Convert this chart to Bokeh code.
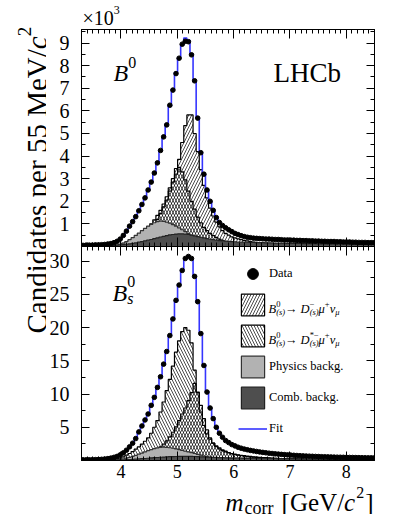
import numpy as np
from bokeh.plotting import figure
from bokeh.models import (Range1d, LinearAxis, FixedTicker, Label, Legend,
                          LegendItem, ColumnDataSource, CustomJSTickFormatter)
from bokeh.layouts import row, column
from bokeh.embed import file_html
from bokeh.resources import INLINE

FONT = "Liberation Serif"

# ---------------- data (55 MeV bins starting at 3.30 GeV) ----------------
BIN_LO, BIN_W, NBINS = 3.30, 0.055, 95

X_MAJOR = [4, 5, 6, 7, 8]
X_MINOR = [round(3.3 + 0.1 * k, 2) for k in range(53)]
TOP_Y_MAJOR = [1, 2, 3, 4, 5, 6, 7, 8, 9]
TOP_Y_MINOR = [0.5, 1.5, 2.5, 3.5, 4.5, 5.5, 6.5, 7.5, 8.5, 9.5]
BOT_Y_MAJOR = [5, 10, 15, 20, 25, 30]
BOT_Y_MINOR = [2.5, 7.5, 12.5, 17.5, 22.5, 27.5, 32.5]

# B0 panel (x10^3 candidates)
top_data = [0.05, 0.06, 0.06, 0.06, 0.07, 0.07, 0.08, 0.09, 0.11, 0.13,
            0.17, 0.23, 0.33, 0.49, 0.68, 0.90, 1.10, 1.32, 1.58, 1.86,
            2.15, 2.50, 2.85, 3.25, 3.70, 4.25, 4.85, 5.38, 6.25, 6.92,
            7.65, 8.33, 8.95, 9.08, 9.06, 8.48, 7.33, 5.68, 4.15, 3.20,
            2.50, 2.00, 1.60, 1.28, 1.06, 0.93, 0.83, 0.74, 0.66, 0.58,
            0.53, 0.48, 0.44, 0.41, 0.39, 0.37, 0.36, 0.35, 0.34, 0.33,
            0.33, 0.32, 0.31, 0.31, 0.30, 0.29, 0.29, 0.28, 0.28, 0.27,
            0.27, 0.26, 0.26, 0.25, 0.25, 0.24, 0.24, 0.23, 0.23, 0.22,
            0.22, 0.22, 0.21, 0.21, 0.20, 0.20, 0.20, 0.19, 0.19, 0.18,
            0.18, 0.18, 0.17, 0.17, 0.17]
top_fit = [0.05, 0.05, 0.06, 0.06, 0.07, 0.07, 0.08, 0.09, 0.11, 0.14,
           0.18, 0.24, 0.34, 0.48, 0.67, 0.89, 1.11, 1.34, 1.60, 1.88,
           2.17, 2.50, 2.88, 3.28, 3.72, 4.25, 4.83, 5.42, 6.20, 6.95,
           7.70, 8.35, 8.92, 9.22, 9.12, 8.50, 7.30, 5.70, 4.18, 3.18,
           2.50, 2.00, 1.62, 1.30, 1.07, 0.93, 0.83, 0.74, 0.66, 0.59,
           0.53, 0.48, 0.44, 0.41, 0.39, 0.37, 0.36, 0.35, 0.34, 0.33,
           0.33, 0.32, 0.31, 0.31, 0.30, 0.29, 0.29, 0.28, 0.28, 0.27,
           0.27, 0.26, 0.26, 0.25, 0.25, 0.24, 0.24, 0.23, 0.23, 0.22,
           0.22, 0.22, 0.21, 0.21, 0.20, 0.20, 0.20, 0.19, 0.19, 0.18,
           0.18, 0.18, 0.17, 0.17, 0.17]
top_dmu = [0, 0, 0, 0, 0, 0, 0, 0.01, 0.01, 0.02,
           0.03, 0.06, 0.10, 0.14, 0.19, 0.25, 0.32, 0.40, 0.50, 0.60,
           0.72, 0.86, 1.00, 1.18, 1.38, 1.60, 1.88, 2.20, 2.60, 3.00,
           3.45, 3.85, 4.60, 5.35, 5.82, 5.82, 5.00, 4.20, 3.40, 2.70,
           2.15, 1.70, 1.35, 1.08, 0.87, 0.70, 0.58, 0.50, 0.43, 0.38,
           0.34, 0.30, 0.27, 0.25, 0.22, 0.20, 0.18, 0.17, 0.16, 0.15,
           0.14, 0.13, 0.12, 0.12, 0.11, 0.11, 0.10, 0.10, 0.09, 0.09,
           0.09, 0.08, 0.08, 0.08, 0.07, 0.07, 0.07, 0.07, 0.06, 0.06,
           0.06, 0.06, 0.05, 0.05, 0.05, 0.05, 0.05, 0.04, 0.04, 0.04,
           0.04, 0.04, 0.04, 0.03, 0.03]
top_dstmu = [0, 0, 0, 0, 0, 0, 0, 0, 0.01, 0.01,
             0.02, 0.03, 0.05, 0.08, 0.12, 0.16, 0.22, 0.28, 0.36, 0.45,
             0.55, 0.68, 0.82, 1.00, 1.20, 1.45, 1.75, 2.05, 2.45, 2.85,
             3.20, 3.50, 3.30, 2.95, 2.45, 2.00, 1.65, 1.30, 1.05, 0.85,
             0.70, 0.58, 0.48, 0.40, 0.33, 0.27, 0.22, 0.18, 0.15, 0.12,
             0.10, 0.08, 0.07, 0.06, 0.05, 0.05, 0.04, 0.04, 0.03, 0.03,
             0.03, 0.03, 0.02, 0.02, 0.02, 0.02, 0.02, 0.02, 0.02, 0.02,
             0.02, 0.02, 0.02, 0.02, 0.02, 0.01, 0.01, 0.01, 0.01, 0.01,
             0.01, 0.01, 0.01, 0.01, 0.01, 0.01, 0.01, 0.01, 0.01, 0.01,
             0.01, 0.01, 0.01, 0.01, 0.01]
top_phys = [0, 0, 0, 0, 0, 0, 0, 0.01, 0.01, 0.02,
            0.04, 0.06, 0.10, 0.15, 0.22, 0.30, 0.39, 0.49, 0.59, 0.70,
            0.80, 0.90, 0.98, 1.05, 1.10, 1.12, 1.11, 1.08, 1.03, 0.97,
            0.90, 0.82, 0.74, 0.66, 0.57, 0.49, 0.41, 0.34, 0.27, 0.21,
            0.16, 0.12, 0.09, 0.07, 0.05, 0.04, 0.03, 0.02, 0.02, 0.01,
            0.01, 0.01, 0.01, 0.01, 0.01, 0, 0, 0, 0, 0,
            0, 0, 0, 0, 0, 0, 0, 0, 0, 0,
            0, 0, 0, 0, 0, 0, 0, 0, 0, 0,
            0, 0, 0, 0, 0, 0, 0, 0, 0, 0,
            0, 0, 0, 0, 0]
top_comb = [0.02, 0.02, 0.02, 0.02, 0.03, 0.03, 0.03, 0.04, 0.04, 0.05,
            0.05, 0.06, 0.07, 0.08, 0.10, 0.12, 0.14, 0.16, 0.19, 0.22,
            0.25, 0.28, 0.31, 0.35, 0.38, 0.42, 0.45, 0.48, 0.51, 0.53,
            0.55, 0.56, 0.56, 0.55, 0.53, 0.50, 0.47, 0.44, 0.41, 0.38,
            0.35, 0.32, 0.30, 0.28, 0.26, 0.25, 0.24, 0.23, 0.22, 0.21,
            0.20, 0.20, 0.19, 0.19, 0.18, 0.18, 0.17, 0.17, 0.17, 0.16,
            0.16, 0.16, 0.15, 0.15, 0.15, 0.15, 0.14, 0.14, 0.14, 0.14,
            0.14, 0.13, 0.13, 0.13, 0.13, 0.13, 0.12, 0.12, 0.12, 0.12,
            0.12, 0.12, 0.11, 0.11, 0.11, 0.11, 0.11, 0.11, 0.10, 0.10,
            0.10, 0.10, 0.10, 0.10, 0.10]

# Bs0 panel (x10^3 candidates)
bot_data = [0.10, 0.10, 0.11, 0.12, 0.13, 0.15, 0.18, 0.22, 0.28, 0.36,
            0.48, 0.62, 0.85, 1.15, 1.55, 2.05, 2.60, 3.30, 4.30, 5.20,
            6.10, 7.00, 8.30, 9.50, 11.0, 12.6, 14.5, 16.4, 18.8, 21.3,
            24.1, 26.4, 28.6, 30.4, 30.7, 30.4, 27.7, 23.9, 19.1, 14.3,
            10.3, 7.9, 6.3, 5.0, 4.1, 3.5, 3.0, 2.7, 2.4, 2.2,
            2.0, 1.85, 1.72, 1.62, 1.52, 1.44, 1.36, 1.29, 1.22, 1.16,
            1.10, 1.05, 1.00, 0.96, 0.92, 0.88, 0.84, 0.81, 0.78, 0.75,
            0.72, 0.69, 0.67, 0.65, 0.63, 0.61, 0.59, 0.57, 0.56, 0.54,
            0.53, 0.51, 0.50, 0.49, 0.48, 0.47, 0.46, 0.45, 0.44, 0.43,
            0.42, 0.41, 0.40, 0.40, 0.39]
bot_fit = [0.10, 0.10, 0.11, 0.12, 0.13, 0.15, 0.18, 0.22, 0.28, 0.37,
           0.49, 0.64, 0.86, 1.16, 1.56, 2.05, 2.62, 3.32, 4.25, 5.20,
           6.10, 7.05, 8.25, 9.50, 11.0, 12.6, 14.5, 16.5, 18.8, 21.3,
           24.0, 26.5, 28.7, 30.3, 30.8, 30.3, 27.8, 23.8, 19.2, 14.4,
           10.4, 7.9, 6.3, 5.0, 4.1, 3.5, 3.0, 2.7, 2.4, 2.2,
           2.0, 1.85, 1.72, 1.62, 1.52, 1.44, 1.36, 1.29, 1.22, 1.16,
           1.10, 1.05, 1.00, 0.96, 0.92, 0.88, 0.84, 0.81, 0.78, 0.75,
           0.72, 0.69, 0.67, 0.65, 0.63, 0.61, 0.59, 0.57, 0.56, 0.54,
           0.53, 0.51, 0.50, 0.49, 0.48, 0.47, 0.46, 0.45, 0.44, 0.43,
           0.42, 0.41, 0.40, 0.40, 0.39]
bot_dmu = [0, 0, 0, 0, 0, 0, 0, 0, 0.01, 0.02,
           0.03, 0.05, 0.08, 0.12, 0.18, 0.25, 0.35, 0.45, 0.58, 0.72,
           0.88, 1.05, 1.25, 1.48, 1.75, 2.05, 2.45, 2.95, 3.55, 4.25,
           5.05, 6.00, 7.00, 7.90, 9.00, 10.2, 11.6, 10.3, 8.3, 6.3,
           4.6, 3.4, 2.6, 2.1, 1.75, 1.5, 1.3, 1.15, 1.0, 0.9,
           0.8, 0.72, 0.66, 0.6, 0.55, 0.51, 0.47, 0.44, 0.41, 0.38,
           0.36, 0.34, 0.32, 0.30, 0.28, 0.27, 0.25, 0.24, 0.23, 0.22,
           0.21, 0.20, 0.19, 0.18, 0.17, 0.16, 0.16, 0.15, 0.14, 0.14,
           0.13, 0.13, 0.12, 0.12, 0.11, 0.11, 0.10, 0.10, 0.10, 0.09,
           0.09, 0.09, 0.08, 0.08, 0.08]
bot_dstmu = [0, 0, 0, 0, 0, 0, 0.01, 0.02, 0.03, 0.05,
             0.12, 0.20, 0.35, 0.55, 0.80, 1.05, 1.35, 1.70, 2.05, 2.45,
             2.90, 3.40, 4.10, 5.00, 6.00, 7.30, 8.80, 10.5, 12.2, 14.2,
             16.3, 18.0, 19.4, 20.0, 19.6, 17.7, 13.6, 10.2, 7.3, 5.3,
             4.0, 3.2, 2.6, 2.2, 1.9, 1.6, 1.4, 1.2, 1.05, 0.95,
             0.85, 0.78, 0.72, 0.66, 0.61, 0.56, 0.52, 0.48, 0.45, 0.42,
             0.39, 0.36, 0.34, 0.32, 0.30, 0.28, 0.27, 0.25, 0.24, 0.23,
             0.22, 0.21, 0.20, 0.19, 0.18, 0.17, 0.16, 0.16, 0.15, 0.14,
             0.14, 0.13, 0.13, 0.12, 0.12, 0.11, 0.11, 0.10, 0.10, 0.10,
             0.09, 0.09, 0.09, 0.08, 0.08]
bot_phys = [0, 0, 0, 0, 0, 0, 0.01, 0.02, 0.03, 0.05,
            0.08, 0.12, 0.18, 0.26, 0.36, 0.48, 0.62, 0.78, 0.95, 1.12,
            1.30, 1.48, 1.64, 1.78, 1.90, 1.98, 2.00, 1.98, 1.92, 1.84,
            1.74, 1.63, 1.52, 1.41, 1.29, 1.17, 1.05, 0.92, 0.80, 0.68,
            0.57, 0.47, 0.38, 0.30, 0.24, 0.19, 0.15, 0.12, 0.09, 0.07,
            0.05, 0.04, 0.03, 0.02, 0.02, 0.01, 0.01, 0.01, 0, 0,
            0, 0, 0, 0, 0, 0, 0, 0, 0, 0,
            0, 0, 0, 0, 0, 0, 0, 0, 0, 0,
            0, 0, 0, 0, 0, 0, 0, 0, 0, 0,
            0, 0, 0, 0, 0]
bot_comb = [0.02, 0.02, 0.02, 0.03, 0.03, 0.03, 0.04, 0.04, 0.05, 0.05,
            0.06, 0.07, 0.08, 0.10, 0.12, 0.14, 0.17, 0.20, 0.23, 0.27,
            0.30, 0.34, 0.38, 0.42, 0.45, 0.49, 0.52, 0.55, 0.57, 0.59,
            0.60, 0.61, 0.62, 0.62, 0.62, 0.61, 0.60, 0.58, 0.56, 0.54,
            0.52, 0.50, 0.48, 0.46, 0.44, 0.42, 0.40, 0.39, 0.37, 0.36,
            0.35, 0.34, 0.33, 0.32, 0.31, 0.30, 0.29, 0.29, 0.28, 0.27,
            0.27, 0.26, 0.26, 0.25, 0.25, 0.24, 0.24, 0.23, 0.23, 0.22,
            0.22, 0.21, 0.21, 0.21, 0.20, 0.20, 0.19, 0.19, 0.19, 0.18,
            0.18, 0.18, 0.17, 0.17, 0.17, 0.16, 0.16, 0.16, 0.15, 0.15,
            0.15, 0.15, 0.14, 0.14, 0.14]

for arr in (top_data, top_fit, top_dmu, top_dstmu, top_phys, top_comb,
            bot_data, bot_fit, bot_dmu, bot_dstmu, bot_phys, bot_comb):
    assert len(arr) == NBINS

edges = BIN_LO + BIN_W * np.arange(NBINS + 1)
centers = edges[:-1] + BIN_W / 2
zeros = np.zeros(NBINS + 1)


def ext(v):
    return list(v) + [v[-1]]


# ---------------- text helpers ----------------
W_REG = {'(': .333, ')': .333, '+': .564, '[': .333, ']': .333, '/': .278,
         '.': .25, '×': .564, '−': .564, '*': .5, '→': 1.0, ' ': .25,
         'a': .444, 'b': .5, 'c': .444, 'd': .5, 'e': .444, 'g': .5, 'h': .5, 'i': .278,
         'k': .5, 'm': .778, 'n': .5, 'o': .5, 'p': .5, 'r': .333, 's': .389, 't': .278,
         'y': .5, 'B': .667, 'C': .667, 'D': .722, 'G': .722, 'H': .722, 'L': .611,
         'M': .889, 'P': .556, 'V': .722, 'μ': .576, 'ν': .5}
W_ITA = {'B': .611, 'D': .722, 'c': .444, 'm': .722, 's': .389, 'μ': .5, 'ν': .444,
         '(': .333, ')': .333}


def tw(s, size, italic=False):
    t = W_ITA if italic else W_REG
    return sum(t.get(ch, W_REG.get(ch, 0.5)) for ch in s) * size


def put(p, anchor, frame_xy, px, py, text, size, italic=False):
    """Place a text by page pixel position, relative to a frame corner."""
    ax, ay = anchor
    fx, fy = frame_xy
    p.add_layout(Label(x=ax, y=ay, x_offset=px - fx, y_offset=fy - py, text=text,
                       text_font=FONT, text_font_size=f"{size}px",
                       text_font_style="italic" if italic else "normal",
                       text_color="black", text_baseline="alphabetic", text_align="left"))


def rich(p, anchor, frame_xy, px, py, pieces):
    """pieces: (text, size, italic, rise, advance) or ("GAP", px)."""
    cx = px
    for pc in pieces:
        if pc[0] == "GAP":
            cx += pc[1]
            continue
        text, size, ital, rise, adv = pc
        put(p, anchor, frame_xy, cx, py - rise, text, size, ital)
        if adv:
            cx += tw(text, size, ital)
    return cx


def rich_width(pieces):
    w = 0
    for pc in pieces:
        if pc[0] == "GAP":
            w += pc[1]
        elif pc[4]:
            w += tw(pc[0], pc[1], pc[2])
    return w


# ---------------- geometry (page pixels) ----------------
LAB_W = 46            # left strip for the y title
STRIP_TOP_H = 29      # strip above the top panel (x10^3)
TOP_FH, BOT_FH = 217, 214
BOT_BB = 24           # x tick labels
STRIP_BOT_H = 30      # strip for the x title
TOTAL_H = STRIP_TOP_H + TOP_FH + BOT_FH + BOT_BB + STRIP_BOT_H
FRAME_W = 293
LEFT_B, RIGHT_B = 35, 10
FRAME_L = LAB_W + LEFT_B
TOP_FT = STRIP_TOP_H
BOT_FT = STRIP_TOP_H + TOP_FH

XR = Range1d(3.3, 8.5)
BLANK = CustomJSTickFormatter(code="return ''")


def style_axis(ax, labels, size, standoff, major_len=8, minor_len=4):
    ax.major_tick_in = major_len
    ax.major_tick_out = 0
    ax.minor_tick_in = minor_len
    ax.minor_tick_out = 0
    ax.axis_line_color = "black"
    ax.major_tick_line_color = "black"
    ax.minor_tick_line_color = "black"
    if labels:
        ax.major_label_text_font = FONT
        ax.major_label_text_font_size = size
        ax.major_label_text_color = "black"
        ax.major_label_standoff = standoff
    else:
        ax.formatter = BLANK
        ax.major_label_text_font_size = "0px"
        ax.major_label_standoff = 0


def panel(ymax, frame_h, bb, ymaj, ymin, xlabels):
    p = figure(x_range=XR, y_range=Range1d(0, ymax), frame_width=FRAME_W, frame_height=frame_h,
               min_border_left=LEFT_B, min_border_right=RIGHT_B, min_border_top=0,
               min_border_bottom=bb, x_axis_location=None, y_axis_location=None,
               output_backend="svg", toolbar_location=None)
    p.grid.visible = False
    p.outline_line_color = "black"
    p.outline_line_width = 1
    p.background_fill_color = "white"
    p.border_fill_color = "white"
    for loc in ("left", "right"):
        ax = LinearAxis(ticker=FixedTicker(ticks=ymaj, minor_ticks=ymin))
        style_axis(ax, loc == "left", "20px", 12, 8, 4)
        p.add_layout(ax, loc)
    for loc in ("below", "above"):
        ax = LinearAxis(ticker=FixedTicker(ticks=X_MAJOR, minor_ticks=X_MINOR))
        style_axis(ax, loc == "below" and xlabels, "18px", 4, 9, 4)
        p.add_layout(ax, loc)
    return p


def text_strip(h):
    """Text-only canvas whose frame lines up with the panels' frames."""
    s = figure(frame_width=FRAME_W, frame_height=h, x_range=Range1d(0, FRAME_W),
               y_range=Range1d(0, h), min_border_left=LEFT_B, min_border_right=RIGHT_B,
               min_border_top=0, min_border_bottom=0, x_axis_location=None,
               y_axis_location=None, output_backend="svg", toolbar_location=None)
    s.grid.visible = False
    s.outline_line_color = None
    s.background_fill_color = "white"
    s.border_fill_color = "white"
    return s


HATCH_SCALE = 6
HATCH_W = 0.7
LIGHT, LIGHT_LINE = "#b2b2b2", "#333333"
DARK, DARK_LINE = "#4e4e4e", "#222222"
FIT_BLUE = "#3535ff"


def draw(p, dmu, dstmu, phys, comb, fit, data):
    r = {}
    p.varea_step(x=edges, y1=zeros, y2=ext(dstmu), step_mode="after", fill_alpha=0,
                 hatch_pattern="\\", hatch_color="black", hatch_scale=HATCH_SCALE,
                 hatch_weight=HATCH_W)
    p.varea_step(x=edges, y1=zeros, y2=ext(dmu), step_mode="after", fill_alpha=0,
                 hatch_pattern="/", hatch_color="black", hatch_scale=HATCH_SCALE,
                 hatch_weight=HATCH_W)
    p.step(x=edges, y=ext(dstmu), mode="after", line_color="black", line_width=1.2)
    p.step(x=edges, y=ext(dmu), mode="after", line_color="black", line_width=1.2)
    p.varea_step(x=edges, y1=zeros, y2=ext(phys), step_mode="after", fill_color=LIGHT)
    p.step(x=edges, y=ext(phys), mode="after", line_color=LIGHT_LINE, line_width=1.2)
    p.varea_step(x=edges, y1=zeros, y2=ext(comb), step_mode="after", fill_color=DARK)
    p.step(x=edges, y=ext(comb), mode="after", line_color=DARK_LINE, line_width=1.2)
    r["fit"] = p.step(x=edges, y=ext(fit), mode="after", line_color=FIT_BLUE, line_width=1.6)
    r["data"] = p.scatter(x=centers, y=data, size=4.6, marker="circle",
                          fill_color="black", line_color="black")
    return r


TOP_YMAX, BOT_YMAX = 9.6, 32.2
top = panel(TOP_YMAX, TOP_FH, 0, TOP_Y_MAJOR, TOP_Y_MINOR, False)
bot = panel(BOT_YMAX, BOT_FH, BOT_BB, BOT_Y_MAJOR, BOT_Y_MINOR, True)

draw(top, top_dmu, top_dstmu, top_phys, top_comb, top_fit, top_data)
rb = draw(bot, bot_dmu, bot_dstmu, bot_phys, bot_comb, bot_fit, bot_data)

# legend swatches (renderers holding no visible data, used for the legend only)
nan_src = ColumnDataSource(dict(left=[np.nan], right=[np.nan], top=[np.nan], bottom=[np.nan]))
qargs = dict(left="left", right="right", top="top", bottom="bottom", source=nan_src)
lg_d = bot.quad(fill_alpha=0, hatch_pattern="/", hatch_color="black", hatch_scale=HATCH_SCALE,
                hatch_weight=HATCH_W, line_color="black", line_width=1.2, **qargs)
lg_ds = bot.quad(fill_alpha=0, hatch_pattern="\\", hatch_color="black", hatch_scale=HATCH_SCALE,
                 hatch_weight=HATCH_W, line_color="black", line_width=1.2, **qargs)
lg_ph = bot.quad(fill_color=LIGHT, line_color=LIGHT_LINE, line_width=1.2, **qargs)
lg_cb = bot.quad(fill_color=DARK, line_color=DARK_LINE, line_width=1.2, **qargs)

legend = Legend(items=[LegendItem(label="Data", renderers=[rb["data"]]),
                       LegendItem(label=" ", renderers=[lg_d]),
                       LegendItem(label=" ", renderers=[lg_ds]),
                       LegendItem(label="Physics backg.", renderers=[lg_ph]),
                       LegendItem(label="Comb. backg.", renderers=[lg_cb]),
                       LegendItem(label="Fit", renderers=[rb["fit"]])],
                location=(157, 18), glyph_width=29, glyph_height=27, spacing=4,
                padding=0, margin=0, label_standoff=2, label_text_font=FONT,
                label_text_font_size="12.5px", label_text_color="black",
                border_line_color=None, background_fill_alpha=0)
bot.add_layout(legend)

# ---------------- in-panel texts ----------------
TOP_ANCHOR, TOP_FRAME = (3.3, TOP_YMAX), (FRAME_L, TOP_FT)
BOT_ANCHOR, BOT_FRAME = (3.3, BOT_YMAX), (FRAME_L, BOT_FT)

put(top, TOP_ANCHOR, TOP_FRAME, 273, 72, "LHCb", 27)
rich(top, TOP_ANCHOR, TOP_FRAME, 113, 72, [("B", 24, True, 0, True), ("0", 16, False, 10, True)])
rich(bot, BOT_ANCHOR, BOT_FRAME, 112, 292, [("B", 24, True, 0, True), ("0", 16, False, 11, False),
                                            ("s", 16, True, -6, True)])

LG_SIZE, LG_SUB = 12.5, 8.5


def decay(py, sup):
    pieces = [("B", LG_SIZE, True, 0, True), ("0", LG_SUB, False, 5, False),
              ("(s)", LG_SUB, True, -3, True), ("→", LG_SIZE, False, 0, True),
              ("GAP", 3), ("D", LG_SIZE, True, 0, True),
              (sup, LG_SUB, False, 5, False), ("(s)", LG_SUB, True, -3, True),
              ("μ", LG_SIZE, True, 0, True), ("+", LG_SUB, False, 5, True),
              ("ν", LG_SIZE, True, 0, True), ("μ", LG_SUB, True, -3, True)]
    rich(bot, BOT_ANCHOR, BOT_FRAME, 268, py, pieces)


decay(308.5, "−")
decay(339.5, "*−")

# ---------------- strip above: x10^3 ----------------
top_strip = text_strip(STRIP_TOP_H)
S_ANCHOR, S_FRAME = (0, STRIP_TOP_H), (FRAME_L, 0)
rich(top_strip, S_ANCHOR, S_FRAME, 82, 17, [("×10", 20, False, 0, True), ("3", 12, False, 8, True)])

# ---------------- strip below: x title ----------------
bot_strip = text_strip(STRIP_BOT_H)
B_Y0 = STRIP_TOP_H + TOP_FH + BOT_FH + BOT_BB
B_ANCHOR, B_FRAME = (0, STRIP_BOT_H), (FRAME_L, B_Y0)
xl_pieces = [("m", 25, True, 0, True), ("GAP", 1), ("corr", 18, False, -5, True),
             ("GAP", 8), ("[GeV/", 25, False, 0, True), ("c", 25, True, 0, True),
             ("GAP", 1), ("2", 16, False, 10, True), ("GAP", 1), ("]", 25, False, 0, True)]
rich(bot_strip, B_ANCHOR, B_FRAME, 373 - rich_width(xl_pieces), B_Y0 + 18, xl_pieces)

# ---------------- y title (left strip) ----------------
lab = figure(width=LAB_W, height=TOTAL_H, x_range=Range1d(0, LAB_W), y_range=Range1d(0, TOTAL_H),
             min_border=0, x_axis_location=None, y_axis_location=None,
             output_backend="svg", toolbar_location=None)
lab.grid.visible = False
lab.outline_line_color = None
YT = 29
base_x = 36
y0 = TOTAL_H - 333
t1 = "Candidates per 55 MeV/"
common = dict(angle=np.pi / 2, text_font=FONT, text_color="black",
              text_baseline="alphabetic", text_align="left")
lab.add_layout(Label(x=base_x, y=y0, text=t1, text_font_size=f"{YT}px", **common))
y1 = y0 + tw(t1, YT)
lab.add_layout(Label(x=base_x, y=y1, text="c", text_font_size=f"{YT}px",
                     text_font_style="italic", **common))
y2 = y1 + tw("c", YT, True)
lab.add_layout(Label(x=base_x - 12, y=y2, text="2", text_font_size="19px", **common))

layout = row(lab, column(top_strip, top, bot, bot_strip))
open("out.html", "w").write(file_html(layout, INLINE, title="LHCb m_corr"))
